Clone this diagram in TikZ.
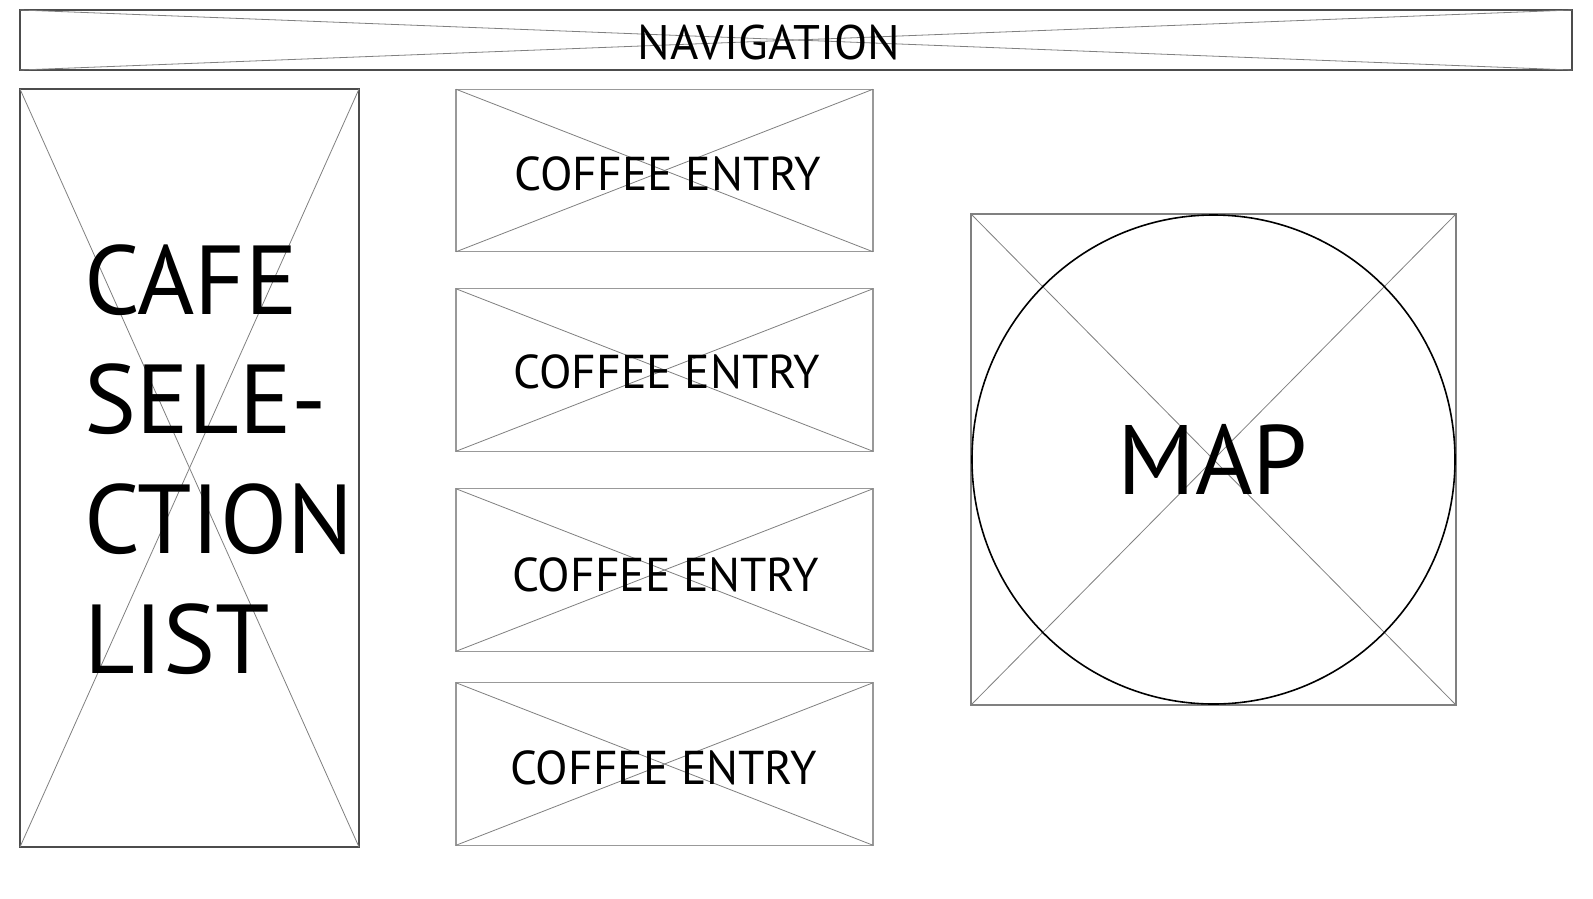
\documentclass[tikz,border=0pt]{standalone}
\usepackage{fontspec}
\setmainfont{PT Sans}
\begin{document}
\begin{tikzpicture}[x=1pt,y=-1pt,
  frame/.style={draw=black!70,line width=2pt,inner sep=0pt,outer sep=0pt},
  lightbox/.style={draw=black!40,line width=1.3pt,inner sep=0pt,outer sep=0pt},
  mapbox/.style={draw=black!50,line width=1.2pt,inner sep=0pt,outer sep=0pt},
  cross/.style={draw=black!50,line width=0.8pt},
  lbl/.style={inner sep=0pt,outer sep=0pt,text=black}]
\useasboundingbox[fill=white] (0,0) rectangle (1593,898);
% navigation
\node[frame,minimum width=1552pt,minimum height=60pt] (nav) at (796,40) {};
\draw[cross] (nav.north west) -- (nav.south east);
\draw[cross] (nav.south west) -- (nav.north east);
\node[lbl,anchor=base,font=\fontsize{48.5}{48.5}\selectfont] (navt) at (769,59) {NAVIGATION};
% cafe list
\node[frame,minimum width=339pt,minimum height=758pt] (cafe) at (189.5,468) {};
\draw[cross] (cafe.north west) -- (cafe.south east);
\draw[cross] (cafe.south west) -- (cafe.north east);
\node[lbl,anchor=base west,font=\fontsize{98}{98}\selectfont] (c1) at (84,314) {CAFE};
\node[lbl,anchor=base west,font=\fontsize{98}{98}\selectfont] (c2) at (84,433) {SELE-};
\node[lbl,anchor=base west,font=\fontsize{98}{98}\selectfont] (c3) at (84,553) {CTION};
\node[lbl,anchor=base west,font=\fontsize{98}{98}\selectfont] (c4) at (84,673) {LIST};
% coffee entries
\foreach \i/\cy/\by/\tx in {1/170.5/190/668, 2/370/388/667, 3/570/591/665.5, 4/764/784/663.5}{
  \node[lightbox,minimum width=417pt,minimum height=162.5pt] (e\i) at (664.5,\cy) {};
  \draw[cross] (e\i.north west) -- (e\i.south east);
  \draw[cross] (e\i.south west) -- (e\i.north east);
  \node[lbl,anchor=base,font=\fontsize{47.5}{47.5}\selectfont] (et\i) at (\tx,\by) {COFFEE ENTRY};
}
% map
\node[mapbox,minimum width=485pt,minimum height=491pt] (map) at (1213.5,459.5) {};
\draw[cross] (map.north west) -- (map.south east);
\draw[cross] (map.south west) -- (map.north east);
\draw[black,line width=1.6pt] (map.center) ellipse [x radius=241.5pt,y radius=244.5pt];
\node[lbl,anchor=base,font=\fontsize{98.6}{98.6}\selectfont] (mapt) at (1212.5,494) {MAP};
\end{tikzpicture}
\end{document}
